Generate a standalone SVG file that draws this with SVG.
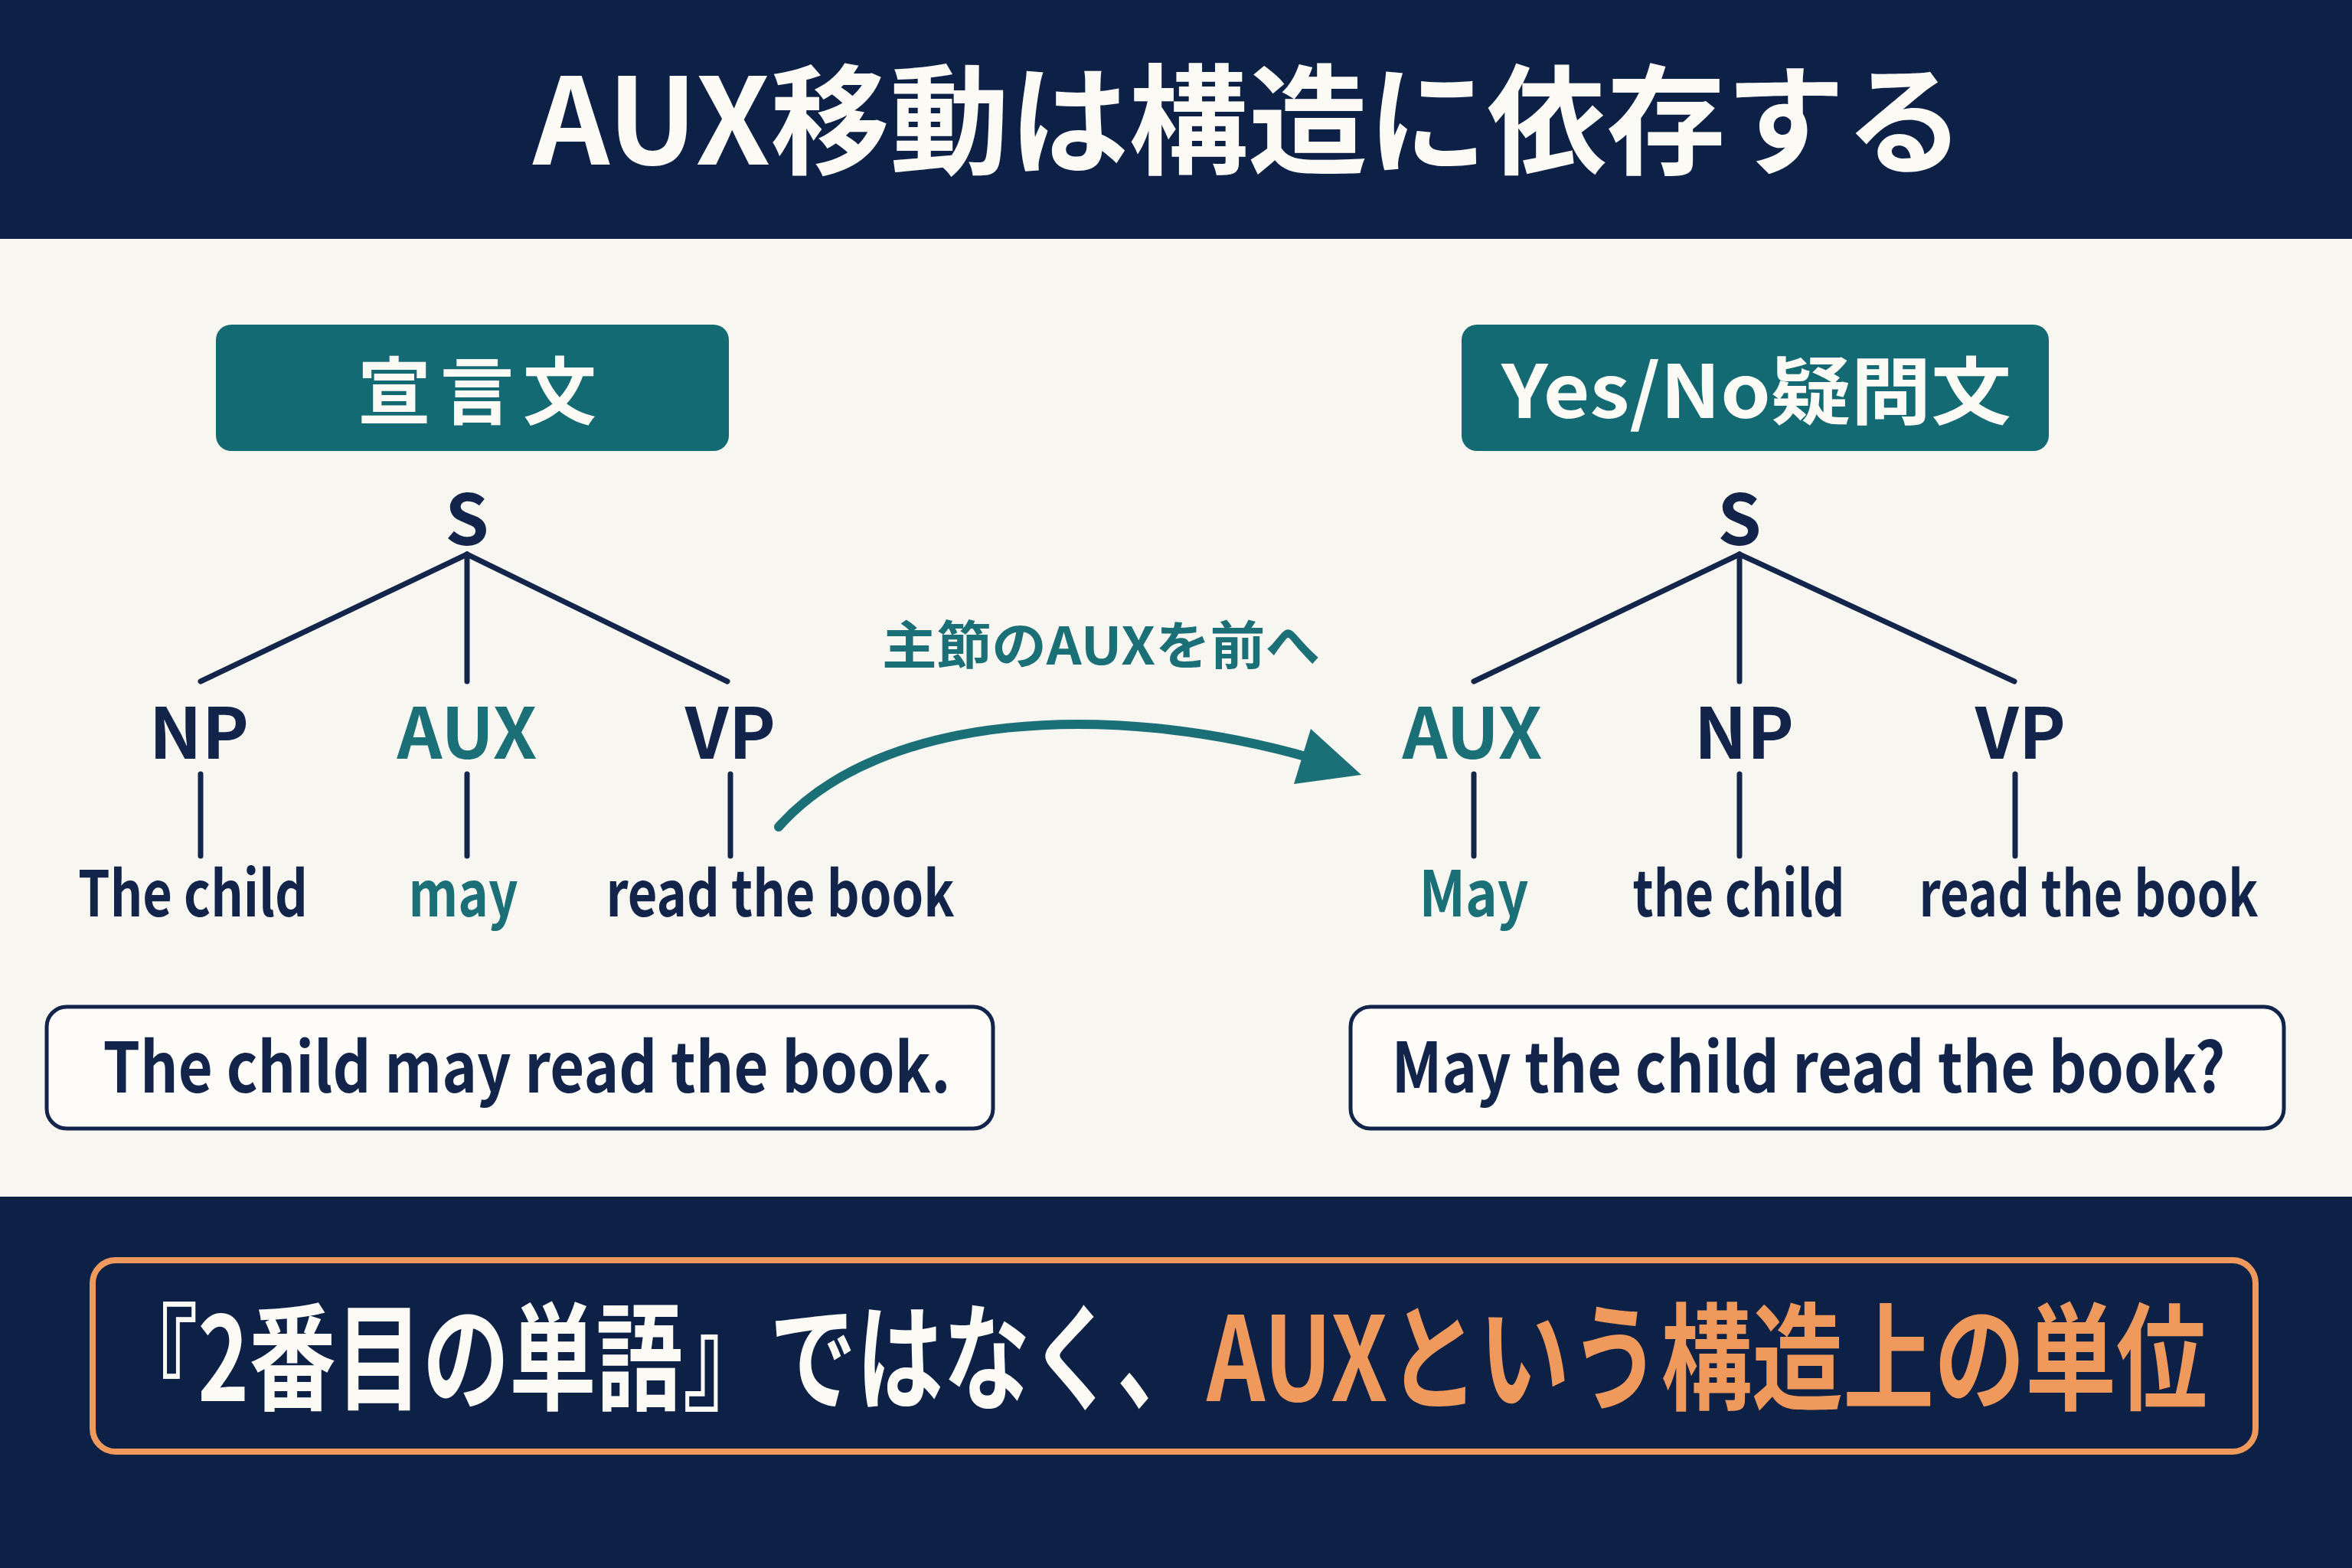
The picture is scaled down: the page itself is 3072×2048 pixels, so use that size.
<svg xmlns="http://www.w3.org/2000/svg" width="3072" height="2048" viewBox="0 0 3072 2048">
<defs>
<style>
.jp{font-family:"Noto Sans CJK JP","Noto Sans",sans-serif;}
.title{font-weight:700;fill:#fbfaf5;font-size:156px;}
.tag{fill:#146a72;}
.tagtxt{font-weight:700;fill:#fbfaf5;font-size:96px;}
.lab{font-weight:600;fill:#12244a;font-size:92px;}
.labaux{font-weight:600;fill:#1b6f76;font-size:92px;}
.word{font-weight:600;fill:#12244a;font-size:82px;}
.wordaux{font-weight:600;fill:#1b6f76;font-size:82px;}
.edge{stroke:#13254a;stroke-width:7;stroke-linecap:round;fill:none;}
.sbox{fill:#fdfcf9;stroke:#12244a;stroke-width:5;}
.sent{font-weight:600;fill:#12244a;font-size:90px;}
.bot{font-weight:700;font-size:152px;}
</style>
</defs>
<rect x="0" y="0" width="3072" height="2048" fill="#f7f6f1"/>
<g id="header">
<rect x="0" y="0" width="3072" height="312" fill="#0d2146"/>
<text class="jp title" x="1631" y="215" text-anchor="middle" textLength="1870" lengthAdjust="spacingAndGlyphs">AUX移動は構造に依存する</text>
</g>
<g id="tag-left">
<rect class="tag" x="282" y="424" width="670" height="165" rx="20"/>
<text class="jp tagtxt" x="623" y="546" text-anchor="middle" textLength="312" lengthAdjust="spacing">宣言文</text>
</g>
<g id="tag-right">
<rect class="tag" x="1909" y="424" width="767" height="165" rx="20"/>
<text class="jp tagtxt" x="2294" y="546" text-anchor="middle" textLength="666" lengthAdjust="spacingAndGlyphs">Yes/No疑問文</text>
</g>
<g id="connectors">
<line class="edge" x1="610" y1="724" x2="262" y2="890"/>
<line class="edge" x1="610" y1="724" x2="610" y2="890"/>
<line class="edge" x1="610" y1="724" x2="950" y2="890"/>
<line class="edge" x1="262" y1="1011" x2="262" y2="1118"/>
<line class="edge" x1="610" y1="1011" x2="610" y2="1118"/>
<line class="edge" x1="954" y1="1011" x2="954" y2="1118"/>
<line class="edge" x1="2272" y1="724" x2="1925" y2="890"/>
<line class="edge" x1="2272" y1="724" x2="2272" y2="890"/>
<line class="edge" x1="2272" y1="724" x2="2631" y2="890"/>
<line class="edge" x1="1925" y1="1011" x2="1925" y2="1118"/>
<line class="edge" x1="2272" y1="1011" x2="2272" y2="1118"/>
<line class="edge" x1="2632" y1="1011" x2="2632" y2="1118"/>
<path d="M1017,1080 C1150,930 1450,915 1712,990" fill="none" stroke="#1b6f76" stroke-width="12" stroke-linecap="round"/>
<polygon points="1712,952 1778,1012 1690,1024" fill="#1b6f76"/>
</g>
<g id="move-label">
<text class="jp" x="1438" y="868" text-anchor="middle" font-size="68" font-weight="700" fill="#1b6f76" textLength="572" lengthAdjust="spacingAndGlyphs">主節のAUXを前へ</text>
</g>
<g id="left-S"><text class="jp lab" x="610" y="712" text-anchor="middle">S</text></g>
<g id="left-NP"><text class="jp lab" x="260" y="991" text-anchor="middle">NP</text></g>
<g id="left-AUX"><text class="jp labaux" x="610" y="991" text-anchor="middle">AUX</text></g>
<g id="left-VP"><text class="jp lab" x="954" y="991" text-anchor="middle">VP</text></g>
<g id="left-w1"><text class="jp word" x="252" y="1197" text-anchor="middle" textLength="300" lengthAdjust="spacingAndGlyphs">The child</text></g>
<g id="left-w2"><text class="jp wordaux" x="605" y="1197" text-anchor="middle" textLength="143" lengthAdjust="spacingAndGlyphs">may</text></g>
<g id="left-w3"><text class="jp word" x="1019" y="1197" text-anchor="middle" textLength="455" lengthAdjust="spacingAndGlyphs">read the book</text></g>
<g id="right-S"><text class="jp lab" x="2272" y="712" text-anchor="middle">S</text></g>
<g id="right-AUX"><text class="jp labaux" x="1923" y="991" text-anchor="middle">AUX</text></g>
<g id="right-NP"><text class="jp lab" x="2278" y="991" text-anchor="middle">NP</text></g>
<g id="right-VP"><text class="jp lab" x="2639" y="991" text-anchor="middle">VP</text></g>
<g id="right-w1"><text class="jp wordaux" x="1925" y="1197" text-anchor="middle" textLength="143" lengthAdjust="spacingAndGlyphs">May</text></g>
<g id="right-w2"><text class="jp word" x="2271" y="1197" text-anchor="middle" textLength="277" lengthAdjust="spacingAndGlyphs">the child</text></g>
<g id="right-w3"><text class="jp word" x="2728" y="1197" text-anchor="middle" textLength="443" lengthAdjust="spacingAndGlyphs">read the book</text></g>
<g id="sentence-left">
<rect class="sbox" x="61" y="1315" width="1236" height="159" rx="26"/>
<text class="jp sent" x="688" y="1427" text-anchor="middle" textLength="1107" lengthAdjust="spacingAndGlyphs">The child may read the book.</text>
</g>
<g id="sentence-right">
<rect class="sbox" x="1764" y="1315" width="1219" height="159" rx="26"/>
<text class="jp sent" x="2362" y="1427" text-anchor="middle" textLength="1089" lengthAdjust="spacingAndGlyphs">May the child read the book?</text>
</g>
<g id="footer">
<rect x="0" y="1563" width="3072" height="485" fill="#0d2146"/>
<rect x="121" y="1646" width="2825" height="250" rx="30" fill="#0d2146" stroke="#f0995c" stroke-width="8"/>
<text class="jp bot" x="145" y="1830" fill="#fbfaf5" textLength="1427" lengthAdjust="spacingAndGlyphs">『2番目の単語』ではなく、</text>
<text class="jp bot" x="1576" y="1830" fill="#f0995c" textLength="1307" lengthAdjust="spacingAndGlyphs">AUXという構造上の単位</text>
</g>
</svg>
